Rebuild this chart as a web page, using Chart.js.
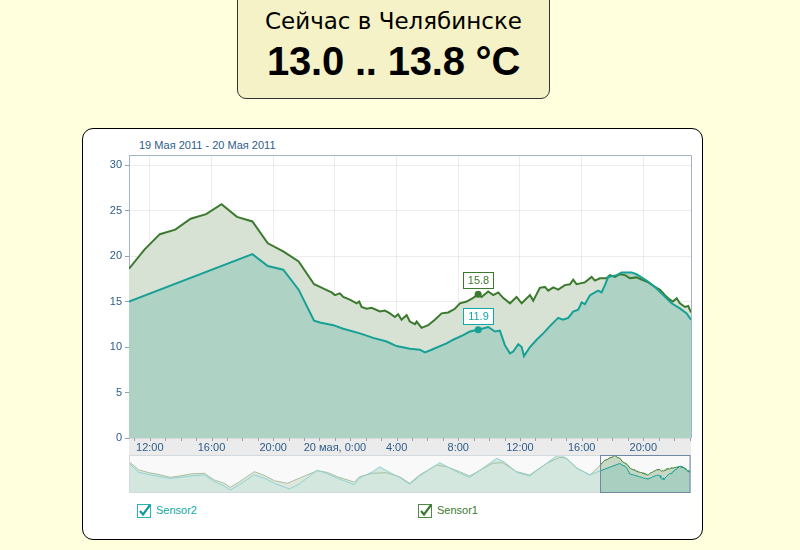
<!DOCTYPE html>
<html>
<head>
<meta charset="utf-8">
<script src="https://cdn.jsdelivr.net/npm/chart.js@4/dist/chart.umd.min.js"></script>
<style>
  html,body{margin:0;padding:0;}
  body{width:800px;height:550px;position:relative;overflow:hidden;background:#ffffdd;font-family:'Liberation Sans',Arial,sans-serif;}
  #title{position:absolute;left:237px;top:-2px;width:313px;height:101px;box-sizing:border-box;background:#f4f2c6;border:1px solid #333;border-radius:0 0 9px 9px;}
  #t1{position:absolute;left:0;width:100%;top:11px;text-align:center;font-family:'DejaVu Sans',sans-serif;font-size:23px;line-height:23px;color:#000;}
  #t2{position:absolute;left:0;width:100%;top:42px;text-align:center;font-size:40px;line-height:40px;font-weight:bold;color:#000;letter-spacing:-0.2px;}
  #card{position:absolute;left:82px;top:128px;width:621px;height:412px;box-sizing:border-box;background:#fff;border:1px solid #000;border-radius:11px;}
  #range{position:absolute;left:139px;top:140px;font-size:11px;line-height:11px;color:#2e5c8a;}
  #main{position:absolute;left:82px;top:128px;}
  #nav{position:absolute;left:129px;top:455px;}
  .lg{position:absolute;top:505px;font-size:11px;line-height:11px;}
  .cb{position:absolute;top:503px;}
</style>
</head>
<body>
<div id="title"><div id="t1">Сейчас в Челябинске</div><div id="t2">13.0 .. 13.8 °C</div></div>
<div id="card"></div>
<div id="range">19 Мая 2011 - 20 Мая 2011</div>
<canvas id="main" width="620" height="330"></canvas>
<canvas id="nav" width="562" height="38"></canvas>
<svg class="cb" style="left:137px" width="16" height="16" viewBox="0 0 16 16"><rect x="0.5" y="1.5" width="13" height="13" fill="#fff" stroke="#2ab3b3"/><polyline points="3,8 6,11.5 13,2" fill="none" stroke="#109c9c" stroke-width="2.2"/></svg>
<div class="lg" style="left:156px;color:#12a8a8">Sensor2</div>
<svg class="cb" style="left:418px" width="16" height="16" viewBox="0 0 16 16"><rect x="0.5" y="1.5" width="13" height="13" fill="#fff" stroke="#4c8a42"/><polyline points="3,8 6,11.5 13,2" fill="none" stroke="#3b7a2e" stroke-width="2.2"/></svg>
<div class="lg" style="left:437px;color:#3b7a2e">Sensor1</div>
<script>
// ---- data (hours counted from 19 May 2011 00:00) ----
const s1Hours = [10.65,11.65,12.65,13.65,14.65,15.65,16.65,17.65,18.65,19.65,20.65,21.65,22.65,
  23.03,23.40,23.79,24.00,24.32,24.54,24.97,25.41,25.58,25.73,26.06,26.38,26.92,27.24,27.57,27.89,28.10,28.32,28.65,28.86,29.19,29.30,29.62,
  30.05,30.48,30.92,31.35,31.78,32.11,32.54,32.97,33.29,33.51,33.94,34.27,34.59,34.91,35.35,35.78,36.11,36.65,36.86,37.29,37.62,37.83,
  38.16,38.48,38.91,39.24,39.45,39.67,40.21,40.65,40.86,41.18,41.62,41.83,42.16,42.48,42.81,43.13,43.56,43.89,44.32,44.75,45.08,45.40,
  45.72,45.92,46.16,46.37,46.70,46.91,47.09];
const s1Values = [18.6,20.7,22.4,22.9,24.1,24.6,25.7,24.3,23.8,21.4,20.5,19.4,16.9,
  16.6,16.3,16.0,15.7,15.9,15.5,15.2,14.8,15.0,14.4,14.2,14.3,13.9,14.0,13.7,13.3,13.6,13.0,13.5,12.8,12.5,12.8,12.1,
  12.4,13.0,13.7,13.8,14.2,14.8,15.0,15.4,15.8,15.5,16.1,15.7,16.0,15.4,14.8,15.5,14.8,15.7,15.1,16.5,16.6,16.2,
  16.55,16.3,16.8,16.9,17.4,16.9,17.1,17.7,17.3,17.55,17.55,17.9,17.7,18.0,17.9,17.55,17.65,17.4,17.1,16.6,16.3,15.7,
  15.2,15.0,15.35,14.8,14.4,14.5,13.8];
const s2Hours = [10.65,18.65,19.65,20.65,21.65,22.65,23.03,23.90,24.54,25.62,26.48,27.35,28.00,28.86,29.51,29.84,30.27,30.81,31.24,31.67,
  32.32,32.75,33.29,33.94,34.38,34.70,35.02,35.35,35.56,35.89,36.11,36.26,36.65,37.08,37.51,37.94,38.48,38.79,39.13,39.45,39.78,40.00,
  40.21,40.54,41.07,41.29,41.51,41.72,42.27,42.59,43.24,43.56,44.21,44.75,45.29,45.83,46.37,46.81,47.09];
const s2Values = [15.0,20.2,18.9,18.5,16.3,12.9,12.7,12.4,12.0,11.5,11.0,10.6,10.1,9.8,9.7,9.4,9.7,10.1,10.4,10.8,
  11.3,11.7,11.9,12.2,11.7,11.8,10.2,9.3,9.5,10.3,10.0,9.0,10.0,10.8,11.5,12.3,13.2,13.0,13.2,13.9,14.1,14.9,
  14.7,15.7,16.2,16.0,16.8,17.7,17.9,18.2,18.2,18.0,17.3,16.6,15.7,14.8,14.25,13.7,13.0];
// navigator history (before the shown window)
const navS1Hours = [-177.6,-175.6,-173.6,-169.6,-165.6,-161.1,-157.5,-153.1,-147.5,-143.5,-139.5,-137.1,-133.5,-127.5,-123.5,-119.5,-114.3,-109.5,
  -102.3,-98.3,-94.3,-87.5,-85.5,-80.2,-74.6,-69.4,-65.4,-61.4,-54.6,-50.6,-45.4,-41.4,-32.2,-28.2,-22.6,-17.4,-10.6,-5.4,-2.6,1.5,6.7,10.65];
const navS1Values = [21.4,18.5,15.7,13.8,12.5,10.6,11.5,12.9,13.4,8.8,6.5,3.7,7.5,14.5,12.0,8.3,6.5,10.0,
  15.2,14.0,11.0,7.3,11.0,13.4,13.8,11.0,6.5,12.2,19.1,17.9,14.5,11.5,20.3,20.7,14.5,12.2,20.3,24.4,23.7,16.8,12.2,18.6];
const navS2Hours = [-177.6,-173.6,-169.6,-161.1,-153.1,-147.5,-143.5,-139.5,-137.1,-133.5,-127.5,-123.5,-119.5,-113.5,-109.5,-102.3,-98.3,-94.3,
  -87.5,-85.5,-80.2,-77.4,-73.4,-69.4,-65.4,-61.4,-53.4,-49.4,-45.4,-41.4,-30.6,-27.4,-22.6,-17.4,-6.6,-4.2,1.5,6.7,10.65];
const navS2Values = [20.3,14.0,12.5,9.8,11.5,12.3,7.6,4.6,1.9,5.5,12.3,10.0,6.5,2.6,6.0,15.5,13.0,10.0,
  5.5,10.0,14.5,17.9,14.0,10.5,5.8,11.5,20.7,17.0,13.5,10.5,23.7,21.0,14.0,11.5,25.5,25.5,17.0,12.2,15.0];
const xTickHours = [12,16,20,24,28,32,36,40,44];
const xTickLabels = ['12:00','16:00','20:00','20 мая, 0:00','4:00','8:00','12:00','16:00','20:00'];
const yTickValues = [0,5,10,15,20,25,30];
const flagHour = 33.29;
const flagS1 = 15.8;
const flagS2 = 11.9;

const pts = (hs, vs) => hs.map((h, i) => ({x: h, y: vs[i]}));
const C1 = '#3b7a2e', C2 = '#16a096', F1 = '#d8e2d4', F2 = '#aed3c4';
Chart.defaults.font.family = "'Liberation Sans', Arial, sans-serif";
Chart.defaults.font.size = 11;

const xMin = s1Hours[0], xMax = s1Hours[s1Hours.length - 1];

const decor = {
  id: 'decor',
  beforeDraw(c) {
    const {ctx, chartArea: a} = c;
    ctx.save();
    ctx.fillStyle = '#ebebeb';
    ctx.fillRect(a.left, a.bottom, a.right - a.left, 17);
    ctx.restore();
  },
  afterDraw(c) {
    const {ctx, chartArea: a, scales} = c;
    ctx.save();
    ctx.strokeStyle = '#a3b3c3';
    ctx.lineWidth = 1;
    ctx.beginPath();
    ctx.moveTo(a.left, a.top + 0.5); ctx.lineTo(a.right + 0.5, a.top + 0.5); ctx.lineTo(a.right + 0.5, a.bottom);
    ctx.stroke();
    // hourly minor ticks
    ctx.strokeStyle = '#8fa3b8';
    for (let h = Math.ceil(xMin); h <= xMax; h++) {
      const x = Math.round(scales.x.getPixelForValue(h)) + 0.5;
      ctx.beginPath(); ctx.moveTo(x, a.bottom); ctx.lineTo(x, a.bottom + 3); ctx.stroke();
    }
    // flags
    const fx = scales.x.getPixelForValue(flagHour);
    [[flagS1, C1, '#3b7a2e'], [flagS2, C2, '#12a8a8']].forEach(([v, col, tcol]) => {
      const py = scales.y.getPixelForValue(v);
      ctx.fillStyle = col;
      ctx.beginPath(); ctx.arc(fx, py, 3.5, 0, Math.PI * 2); ctx.fill();
      const w = 30, h = 16, bx = Math.round(fx - w / 2) + 0.5, by = Math.round(py - 6 - h) + 0.5;
      ctx.fillStyle = '#fff';
      ctx.fillRect(bx, by, w, h);
      ctx.strokeStyle = tcol;
      ctx.strokeRect(bx, by, w, h);
      ctx.fillStyle = tcol;
      ctx.font = "11px 'Liberation Sans', Arial, sans-serif";
      ctx.textAlign = 'center'; ctx.textBaseline = 'middle';
      ctx.fillText(v.toFixed(1), bx + w / 2, by + h / 2 + 0.5);
    });
    ctx.restore();
  }
};

new Chart(document.getElementById('main'), {
  type: 'line',
  data: {
    datasets: [
      {label: 'Sensor2', data: pts(s2Hours, s2Values), borderColor: C2, backgroundColor: F2, borderWidth: 2, fill: 'origin', pointRadius: 0, tension: 0},
      {label: 'Sensor1', data: pts(s1Hours, s1Values), borderColor: C1, backgroundColor: F1, borderWidth: 2, fill: 'origin', pointRadius: 0, tension: 0}
    ]
  },
  options: {
    responsive: false, animation: false,
    layout: {padding: {left: 7, right: 11, top: 27, bottom: 3}},
    plugins: {legend: {display: false}, tooltip: {enabled: false}, filler: {drawTime: 'beforeDatasetsDraw'}},
    scales: {
      x: {
        type: 'linear', min: xMin, max: xMax, z: 1,
        afterBuildTicks: s => { s.ticks = xTickHours.map(v => ({value: v})); },
        afterFit: s => { s.height = 17; },
        ticks: {color: '#2e5c8a', padding: 3, maxRotation: 0, autoSkip: false,
          callback: v => { const i = xTickHours.indexOf(v); return i >= 0 ? xTickLabels[i] : ''; }},
        grid: {color: 'rgba(0,0,0,0.07)', drawTicks: false},
        border: {display: false}
      },
      y: {
        min: 0, max: 31.1, z: 1,
        afterBuildTicks: s => { s.ticks = yTickValues.map(v => ({value: v})); },
        afterFit: s => { s.width = 40; },
        ticks: {color: '#2e5c8a', padding: 3},
        grid: {color: 'rgba(0,0,0,0.07)', tickColor: '#8fa3b8', tickLength: 4},
        border: {display: true, color: '#a3b3c3'}
      }
    }
  },
  plugins: [decor]
});

const navDecor = {
  id: 'navDecor',
  beforeDraw(c) {
    const {ctx, width, height} = c;
    ctx.save(); ctx.fillStyle = '#f9f9f9'; ctx.fillRect(0, 0, width, height); ctx.restore();
  },
  afterDraw(c) {
    const {ctx, width, height, scales} = c;
    ctx.save();
    ctx.strokeStyle = '#d3dadf'; ctx.lineWidth = 1;
    ctx.strokeRect(0.5, 0.5, width - 1, height - 1);
    const x0 = Math.round(scales.x.getPixelForValue(xMin)) + 0.5;
    ctx.strokeStyle = '#6f89a4';
    ctx.strokeRect(x0, 0.5, width - 0.5 - x0 - 0.5, height - 1);
    ctx.restore();
  }
};

new Chart(document.getElementById('nav'), {
  type: 'line',
  data: {
    datasets: [
      {data: pts(s2Hours, s2Values), borderColor: C2, backgroundColor: '#a8cfc0', borderWidth: 1, fill: 'origin', pointRadius: 0},
      {data: pts(s1Hours, s1Values), borderColor: C1, backgroundColor: '#c9d8c5', borderWidth: 1, fill: 'origin', pointRadius: 0},
      {data: pts(navS2Hours, navS2Values), borderColor: '#8fd4d4', backgroundColor: '#d3e7df', borderWidth: 1, fill: 'origin', pointRadius: 0},
      {data: pts(navS1Hours, navS1Values), borderColor: '#a9bfa2', backgroundColor: '#dfe7dc', borderWidth: 1, fill: 'origin', pointRadius: 0}
    ]
  },
  options: {
    responsive: false, animation: false,
    layout: {padding: 0},
    plugins: {legend: {display: false}, tooltip: {enabled: false}, filler: {drawTime: 'beforeDatasetsDraw'}},
    scales: {
      x: {type: 'linear', display: false, min: navS1Hours[0], max: xMax},
      y: {display: false, min: -0.2, max: 26}
    }
  },
  plugins: [navDecor]
});
</script>
</body>
</html>
